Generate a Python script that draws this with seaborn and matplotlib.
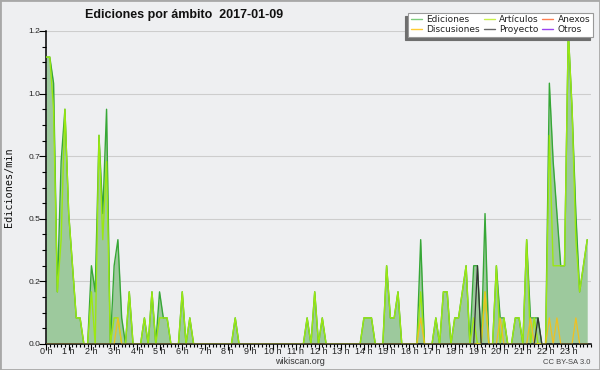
import numpy as np
import matplotlib
matplotlib.use("Agg")
import matplotlib.pyplot as plt
import seaborn as sns
from matplotlib.lines import Line2D
from matplotlib.patches import Rectangle
from matplotlib.ticker import MultipleLocator

# Edits per minute, one value per 10-minute slot (0h00 -> 23h50), 2017-01-09
ediciones = [
    1.1, 1.1, 1.0, 0.2, 0.7, 0.9, 0.5, 0.3, 0.1, 0.1, 0, 0,
    0.3, 0.2, 0.8, 0.5, 0.9, 0, 0.3, 0.4, 0.1, 0, 0.2, 0,
    0, 0, 0.1, 0, 0.2, 0, 0.2, 0.1, 0.1, 0, 0, 0,
    0.2, 0, 0.1, 0, 0, 0, 0, 0, 0, 0, 0, 0,
    0, 0, 0.1, 0, 0, 0, 0, 0, 0, 0, 0, 0,
    0, 0, 0, 0, 0, 0, 0, 0, 0, 0.1, 0, 0.2,
    0, 0.1, 0, 0, 0, 0, 0, 0, 0, 0, 0, 0,
    0.1, 0.1, 0.1, 0, 0, 0, 0.3, 0.1, 0.1, 0.2, 0, 0,
    0, 0, 0, 0.4, 0, 0, 0, 0.1, 0, 0.2, 0.2, 0,
    0.1, 0.1, 0.2, 0.3, 0, 0.3, 0.3, 0, 0.5, 0, 0, 0.3,
    0.1, 0.1, 0, 0, 0.1, 0.1, 0, 0.4, 0.1, 0.1, 0.1, 0,
    0, 1.0, 0.7, 0.5, 0.3, 0.3, 1.2, 0.9, 0.5, 0.2, 0.3, 0.4,
]
articulos = [
    1.1, 1.1, 0.9, 0.2, 0.4, 0.9, 0.5, 0.3, 0.1, 0.1, 0, 0,
    0.2, 0, 0.8, 0.4, 0.7, 0, 0.1, 0.1, 0, 0, 0.2, 0,
    0, 0, 0.1, 0, 0.2, 0, 0.1, 0.1, 0.1, 0, 0, 0,
    0.2, 0, 0.1, 0, 0, 0, 0, 0, 0, 0, 0, 0,
    0, 0, 0.1, 0, 0, 0, 0, 0, 0, 0, 0, 0,
    0, 0, 0, 0, 0, 0, 0, 0, 0, 0.1, 0, 0.2,
    0, 0.1, 0, 0, 0, 0, 0, 0, 0, 0, 0, 0,
    0.1, 0.1, 0.1, 0, 0, 0, 0.3, 0.1, 0.1, 0.2, 0, 0,
    0, 0, 0, 0.2, 0, 0, 0, 0.1, 0, 0.2, 0.2, 0,
    0.1, 0.1, 0.2, 0.3, 0, 0.1, 0, 0, 0.2, 0, 0, 0.3,
    0, 0.1, 0, 0, 0.1, 0.1, 0, 0.4, 0, 0.1, 0, 0,
    0, 0.8, 0.3, 0.3, 0.3, 0.3, 1.2, 0.9, 0.4, 0.2, 0.3, 0.4,
]
# sparse series: slot index -> edits/min
discusiones_slots = [19, 99, 116, 120, 128, 133, 135, 140]
discusiones_vals = [0.1, 0.1, 0.2, 0.1, 0.1, 0.1, 0.1, 0.1]
proyecto_slots = [114, 130]
proyecto_vals = [0.3, 0.1]
anexos_slots = []
anexos_vals = []
otros_slots = []
otros_vals = []

hour_labels = [f"{h} h" for h in range(24)]
y_ticks = [0, 0.24, 0.48, 0.72, 0.96, 1.2]
y_labels = ["0.0", "0.2", "0.5", "0.7", "1.0", "1.2"]
legend_names = ["Ediciones", "Discusiones", "Artículos", "Proyecto", "Anexos", "Otros"]


def expand(slots, vals, n):
    s = np.zeros(n)
    s[slots] = vals
    return s


n = len(ediciones)
hours = np.arange(n) / 6
discusiones = expand(discusiones_slots, discusiones_vals, n)
proyecto = expand(proyecto_slots, proyecto_vals, n)
anexos = expand(anexos_slots, anexos_vals, n)
otros = expand(otros_slots, otros_vals, n)

bg = '#eeeff1'
line_colors = {'Ediciones': '#36a736', 'Artículos': '#9be812', 'Discusiones': '#f0c020',
               'Proyecto': '#333333', 'Anexos': '#ff7f50', 'Otros': '#9a44f0'}
legend_colors = ['#7ccc7c', '#ffcc33', '#c8f04a', '#666666', '#ff7f50', '#9a44f0']

sns.set_theme(style="white")
plt.rcParams['font.family'] = ['DejaVu Sans']

fig = plt.figure(figsize=(6, 3.7), dpi=100, facecolor=bg)
ax = fig.add_axes([46 / 600, 1 - 344 / 370, 545 / 600, 313 / 370])
ax.set_facecolor(bg)

# total edits as filled area, then each namespace on top
ax.fill_between(hours, ediciones, color='#9dc99d', lw=0, zorder=1)
sns.lineplot(x=hours, y=anexos, ax=ax, color=line_colors['Anexos'], lw=0.8, zorder=1.5, errorbar=None)
sns.lineplot(x=hours, y=otros, ax=ax, color=line_colors['Otros'], lw=0.8, zorder=1.5, errorbar=None)
sns.lineplot(x=hours, y=ediciones, ax=ax, color=line_colors['Ediciones'], lw=1.0, zorder=3, errorbar=None)
sns.lineplot(x=hours, y=articulos, ax=ax, color=line_colors['Artículos'], lw=1.0, zorder=4, errorbar=None)
sns.lineplot(x=hours, y=discusiones, ax=ax, color=line_colors['Discusiones'], lw=0.9, zorder=5, errorbar=None)
sns.lineplot(x=hours, y=proyecto, ax=ax, color=line_colors['Proyecto'], lw=0.9, zorder=6, errorbar=None)

ax.set_xlim(0, 24)
ax.set_ylim(0, 1.2)
ax.set_xticks(range(24))
ax.set_xticklabels(hour_labels, family='Liberation Sans', fontsize=6.5, color='#222222')
ax.xaxis.set_minor_locator(MultipleLocator(1 / 6))
ax.set_yticks(y_ticks)
ax.set_yticklabels(y_labels, family='Liberation Sans', fontsize=6, color='#222222')
ax.yaxis.set_minor_locator(MultipleLocator(0.06))
ax.tick_params(axis='x', which='major', bottom=True, length=4, width=0.8, pad=-1.5, color='black')
ax.tick_params(axis='x', which='minor', bottom=True, length=2.5, width=0.8, color='black')
ax.tick_params(axis='y', which='major', left=True, length=5, width=0.8, pad=-1, color='black')
ax.tick_params(axis='y', which='minor', left=True, length=3, width=0.8, color='black')

ax.yaxis.grid(True, color='#cdcdcd', lw=0.8)
ax.xaxis.grid(False)
ax.set_axisbelow(True)
for side in ['top', 'right']:
    ax.spines[side].set_visible(False)
for side in ['left', 'bottom']:
    ax.spines[side].set_color('black')
    ax.spines[side].set_linewidth(1.1)

ax.set_xlabel('')
ax.set_ylabel('Ediciones/min', family='DejaVu Sans Mono', fontsize=7.3, color='#111111')
ax.yaxis.set_label_coords(-0.058, 0.5)

fig.text(85 / 600, 1 - 18.3 / 370, 'Ediciones por ámbito  2017-01-09', family='Liberation Sans',
         fontsize=9, fontweight='bold', color='#111111', ha='left', va='baseline')
fig.text(0.5, 1 - 361.5 / 370, 'wikiscan.org', family='Liberation Sans', fontsize=6.5,
         color='#333333', ha='center', va='center')
fig.text(590 / 600, 1 - 362.5 / 370, 'CC BY-SA 3.0', family='Liberation Sans', fontsize=5.5,
         color='#444444', ha='right', va='center')

handles = [Line2D([], [], color=c, lw=1) for c in legend_colors]
leg = fig.legend(handles, legend_names, ncol=3, loc='upper right',
                 bbox_to_anchor=(593 / 600, 1 - 12.7 / 370), bbox_transform=fig.transFigure,
                 frameon=True, fancybox=False,
                 shadow={'ox': -2.5, 'oy': -2.5, 'facecolor': '#6e6e6e', 'edgecolor': '#6e6e6e', 'alpha': 1},
                 prop={'size': 6.5}, handlelength=1.2, handletextpad=0.5, columnspacing=0.4,
                 labelspacing=0.1, borderpad=0.3, borderaxespad=0)
leg.get_frame().set_facecolor('white')
leg.get_frame().set_edgecolor('#999999')
leg.get_frame().set_linewidth(0.8)
for t in leg.get_texts():
    t.set_color('#222222')

fig.add_artist(Rectangle((0, 0), 1, 1, transform=fig.transFigure, fill=False,
                         edgecolor='#a8a8a8', lw=2))

fig.savefig('out.png', dpi=100, facecolor=bg)
